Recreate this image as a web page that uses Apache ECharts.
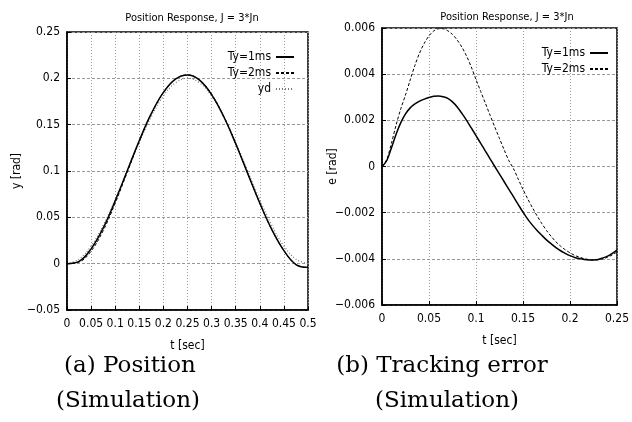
<!DOCTYPE html>
<html>
<head>
<meta charset="utf-8">
<script src="https://cdn.jsdelivr.net/npm/echarts@6/dist/echarts.min.js"></script>
<style>html,body{margin:0;padding:0;background:#fff}#c{width:632px;height:422px}</style>
</head>
<body>
<div id="c"></div>
<script>
// ---- Data ----
var chartTitle = 'Position Response, J = 3*Jn';
var seriesNamesPos = ['Ty=1ms', 'Ty=2ms', 'yd'];
var seriesNamesErr = ['Ty=1ms', 'Ty=2ms'];

// (a) Position
var tPos = [0,0.025,0.05,0.075,0.1,0.125,0.15,0.175,0.2,0.225,0.25,0.275,0.3,0.325,0.35,0.375,0.4,0.425,0.45,0.475,0.5];
var ydPos = [0,0.0049,0.0191,0.0412,0.0691,0.1,0.1309,0.1588,0.1809,0.1951,0.2,0.1951,0.1809,0.1588,0.1309,0.1,0.0691,0.0412,0.0191,0.0049,0];
var y1Pos = [0,0.0024,0.0160,0.0384,0.0678,0.1003,0.1329,0.1621,0.1848,0.1991,0.2036,0.1981,0.1824,0.1588,0.1294,0.0972,0.0653,0.0367,0.0141,-0.0010,-0.0040];
var y2Pos = [0,0.0017,0.0136,0.0355,0.0653,0.0986,0.1319,0.1616,0.1847,0.1991,0.2037,0.1983,0.1829,0.1593,0.1297,0.0973,0.0653,0.0366,0.0140,-0.0010,-0.0042];

// (b) Tracking error, sampled every 0.005 s from 0 to 0.25 s
var tErr = [0,0.005,0.01,0.015,0.02,0.025,0.03,0.035,0.04,0.045,0.05,0.055,0.06,0.065,0.07,0.075,0.08,0.085,0.09,0.095,
            0.1,0.105,0.11,0.115,0.12,0.125,0.13,0.135,0.14,0.145,0.15,0.155,0.16,0.165,0.17,0.175,0.18,0.185,0.19,0.195,
            0.2,0.205,0.21,0.215,0.22,0.225,0.23,0.235,0.24,0.245,0.25];
var e1Err = [0,0.00025,0.0008,0.0014,0.0019,0.00228,0.00254,0.00271,0.00283,0.00292,0.00299,0.00304,0.00305,0.00302,0.00295,0.0028,0.00258,0.0023,0.002,0.00167,
             0.00134,0.001,0.00067,0.00033,0,-0.00033,-0.00066,-0.00099,-0.00132,-0.00165,-0.00198,-0.00228,-0.00254,-0.00277,-0.00298,-0.00318,-0.00335,-0.00351,-0.00365,-0.00376,
             -0.00386,-0.00394,-0.00399,-0.00403,-0.00405,-0.00405,-0.00403,-0.00396,-0.00388,-0.00376,-0.00362];
var e2Err = [0,0.0003,0.001,0.0018,0.0025,0.0031,0.00375,0.00438,0.00492,0.00534,0.00566,0.00587,0.00597,0.00597,0.00588,0.00572,0.00548,0.00517,0.00478,0.00431,
             0.00377,0.00325,0.00274,0.00222,0.00171,0.00121,0.00072,0.00025,-0.0001,-0.00055,-0.00099,-0.0014,-0.00178,-0.00214,-0.00247,-0.00277,-0.00303,-0.00326,-0.00345,-0.00361,
             -0.00374,-0.00385,-0.00393,-0.00399,-0.00403,-0.00405,-0.00404,-0.004,-0.00393,-0.00383,-0.0037];

// axis ticks
var posX = {min: 0, max: 0.5, interval: 0.05};
var posY = {min: -0.05, max: 0.25, interval: 0.05};
var errX = {min: 0, max: 0.25, interval: 0.05};
var errY = {min: -0.006, max: 0.006, interval: 0.002};

var xName = 't [sec]';
var yNamePos = 'y [rad]';
var yNameErr = 'e [rad]';
var captionA = ['(a) Position', '(Simulation)'];
var captionB = ['(b) Tracking error', '(Simulation)'];

function pairs(xs, ys) { return xs.map(function (x, i) { return [x, ys[i]]; }); }
function fmt(v) {
  var s = String(parseFloat(v.toFixed(4)));
  return s.replace('-', '\u2212');
}

var NARROW = "'Liberation Sans Narrow', 'DejaVu Sans Condensed', 'Liberation Sans', sans-serif";
var SERIF = "'DejaVu Serif', 'Liberation Serif', serif";
var labelStyle = {fontFamily: NARROW, fontSize: 12, color: '#000'};

function xAxisCfg(r, gridIndex) {
  return {
    type: 'value', gridIndex: gridIndex, min: r.min, max: r.max, interval: r.interval,
    name: xName, nameLocation: 'middle', nameGap: 30, nameMoveOverlap: false,
    nameTextStyle: {fontFamily: NARROW, fontSize: 12, color: '#000'},
    axisLine: {show: true, onZero: false, lineStyle: {color: '#000', width: 1.5}},
    axisTick: {show: true, inside: true, length: 4, lineStyle: {color: '#000'}},
    axisLabel: Object.assign({margin: 8, formatter: fmt}, labelStyle),
    splitLine: {show: true, lineStyle: {color: '#999', type: [1, 2], width: 1}}
  };
}
function yAxisCfg(r, gridIndex, name, gap) {
  return {
    type: 'value', gridIndex: gridIndex, min: r.min, max: r.max, interval: r.interval,
    name: name, nameLocation: 'middle', nameGap: gap, nameRotate: 90, nameMoveOverlap: false,
    nameTextStyle: {fontFamily: NARROW, fontSize: 12, color: '#000'},
    axisLine: {show: true, onZero: false, lineStyle: {color: '#000', width: 1.5}},
    axisTick: {show: true, inside: true, length: 4, lineStyle: {color: '#000'}},
    axisLabel: Object.assign({margin: 7, formatter: fmt}, labelStyle),
    splitLine: {show: true, lineStyle: {color: '#999', type: [3, 2], width: 1}}
  };
}

var solid = {color: '#000', width: 1.5, type: 'solid'};
var dashed = {color: '#000', width: 1, type: [3, 2]};
var dotted = {color: '#777', width: 1.2, type: [1, 2]};

var legendCommon = {
  orient: 'vertical', align: 'right', itemWidth: 18, itemHeight: 10, itemGap: 4,
  selectedMode: false, itemStyle: {opacity: 0},
  textStyle: {fontFamily: NARROW, fontSize: 12, color: '#000', lineHeight: 12}
};

var chart = echarts.init(document.getElementById('c'), null, {renderer: 'canvas'});
chart.setOption({
  animation: false,
  backgroundColor: '#fff',
  title: [
    {text: chartTitle, left: 187, top: 8, textAlign: 'center',
     textStyle: {fontFamily: NARROW, fontSize: 11, fontWeight: 'normal', color: '#000'}},
    {text: chartTitle, left: 502, top: 7, textAlign: 'center',
     textStyle: {fontFamily: NARROW, fontSize: 11, fontWeight: 'normal', color: '#000'}}
  ],
  grid: [
    {left: 67, right: 324, top: 32, bottom: 112, show: true, borderColor: '#000', borderWidth: 1.5, containLabel: false},
    {left: 382, right: 9, top: 28, bottom: 117, show: true, borderColor: '#000', borderWidth: 1.5, containLabel: false}
  ],
  legend: [
    Object.assign({data: seriesNamesPos, right: 332, top: 46}, legendCommon),
    Object.assign({data: seriesNamesErr, right: 18, top: 42}, legendCommon)
  ],
  xAxis: [xAxisCfg(posX, 0), xAxisCfg(errX, 1)],
  yAxis: [yAxisCfg(posY, 0, yNamePos, 44), yAxisCfg(errY, 1, yNameErr, 43)],
  series: [
    {name: seriesNamesPos[2], type: 'line', xAxisIndex: 0, yAxisIndex: 0, data: pairs(tPos, ydPos),
     symbol: 'none', smooth: 0.4, lineStyle: dotted, itemStyle: {color: '#777'}, z: 1},
    {name: seriesNamesPos[1], type: 'line', xAxisIndex: 0, yAxisIndex: 0, data: pairs(tPos, y2Pos),
     symbol: 'none', smooth: 0.4, lineStyle: dashed, itemStyle: {color: '#000'}, z: 2},
    {name: seriesNamesPos[0], type: 'line', xAxisIndex: 0, yAxisIndex: 0, data: pairs(tPos, y1Pos),
     symbol: 'none', smooth: 0.4, lineStyle: solid, itemStyle: {color: '#000'}, z: 3},
    {name: seriesNamesErr[1], type: 'line', xAxisIndex: 1, yAxisIndex: 1, data: pairs(tErr, e2Err),
     symbol: 'none', smooth: 0.3, lineStyle: dashed, itemStyle: {color: '#000'}, z: 2},
    {name: seriesNamesErr[0], type: 'line', xAxisIndex: 1, yAxisIndex: 1, data: pairs(tErr, e1Err),
     symbol: 'none', smooth: 0.3, lineStyle: solid, itemStyle: {color: '#000'}, z: 3}
  ],
  graphic: [
    {type: 'text', style: {text: captionA[0], x: 130, y: 366, align: 'center', verticalAlign: 'middle', font: '23px ' + SERIF, fill: '#000'}},
    {type: 'text', style: {text: captionA[1], x: 128, y: 401, align: 'center', verticalAlign: 'middle', font: '23px ' + SERIF, fill: '#000'}},
    {type: 'text', style: {text: captionB[0], x: 442, y: 366, align: 'center', verticalAlign: 'middle', font: '23px ' + SERIF, fill: '#000'}},
    {type: 'text', style: {text: captionB[1], x: 447, y: 401, align: 'center', verticalAlign: 'middle', font: '23px ' + SERIF, fill: '#000'}}
  ]
});
</script>
</body>
</html>
